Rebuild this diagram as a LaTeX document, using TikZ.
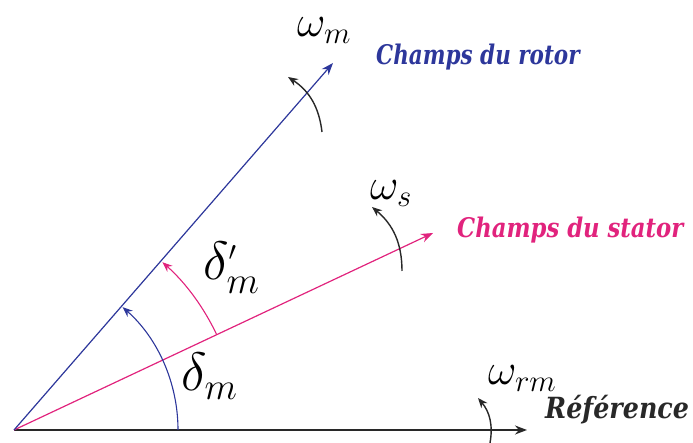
\RequirePackage{fix-cm}
\documentclass[tikz,border=0pt]{standalone}
\usepackage{fontspec}
\newfontfamily\dvs{DejaVu Serif}
\usetikzlibrary{arrows.meta}
\definecolor{rotorblue}{RGB}{45,55,155}
\definecolor{statorpink}{RGB}{225,35,125}
\definecolor{refgray}{RGB}{40,40,40}
\tikzset{
  vec/.style={line width=1.2pt,-{Stealth[length=12pt,width=9pt]}},
  rot/.style={line width=1.4pt,refgray,-{Stealth[length=10pt,width=8pt]}},
  ang/.style={line width=1.1pt,-{Stealth[length=10pt,width=8pt]}},
  lbl/.style={font=\dvs\fontsize{25}{28}\selectfont\bfseries\itshape,anchor=base west,inner sep=0pt},
  greek/.style={inner sep=0pt,anchor=base west}
}
\newcommand{\narrow}[2]{\scalebox{#1}[1.08]{#2}}
\newcommand{\omsym}[1]{{\fontsize{44}{46}\selectfont$\omega_{#1}$}}
\newcommand{\desym}{{\fontsize{54}{56}\selectfont$\delta_{m}$}}
\newcommand{\desymp}{{\fontsize{54}{56}\selectfont$\delta^{\scriptscriptstyle\prime}_{m}$}}
\begin{document}
\begin{tikzpicture}[x=1pt,y=1pt]
\useasboundingbox (0,0) rectangle (693,443);
\coordinate (O) at (14,13);
\coordinate (R) at (527,13);
\coordinate (S) at (433,210);
\coordinate (T) at (333,380);
% vectors
\draw[vec,refgray,line width=1.6pt] (O) -- (R);
\draw[vec,statorpink] (O) -- (S);
\draw[vec,rotorblue] (O) -- (T);
% angle arcs
\draw[ang,rotorblue] ([shift={(0:164)}]O) arc[start angle=0,end angle=48.5,radius=164];
\draw[ang,statorpink] ([shift={(25.2:224)}]O) arc[start angle=25.2,end angle=48.5,radius=224];
% rotation arrows
\coordinate (wma) at (322,311);
\coordinate (wmb) at (288,366);
\draw[rot] (wma) to[bend right=25] (wmb);
\coordinate (wsa) at (402,172);
\coordinate (wsb) at (372,236);
\draw[rot] (wsa) to[bend right=25] (wsb);
\coordinate (wra) at (490,0);
\coordinate (wrb) at (478,45);
\draw[rot] (wra) to[bend right=25] (wrb);
% labels
\node[lbl,text=rotorblue] (lrot) at (376,378) {\narrow{0.86}{Champs du rotor}};
\node[lbl,text=statorpink] (lsta) at (457,205) {\narrow{0.91}{Champs du stator}};
\node[lbl,text=refgray,font=\dvs\fontsize{27}{30}\selectfont\bfseries\itshape] (lref) at (545,24) {\narrow{0.94}{Référence}};
\node[greek] (wm) at (297,406) {\omsym{m}};
\node[greek] (ws) at (370,243) {\omsym{s}};
\node[greek] (wr) at (488,58) {\omsym{rm}};
\node[greek] (dm) at (181,52) {\desym};
\node[greek] (dpm) at (203,163) {\desymp};
\end{tikzpicture}
\end{document}
